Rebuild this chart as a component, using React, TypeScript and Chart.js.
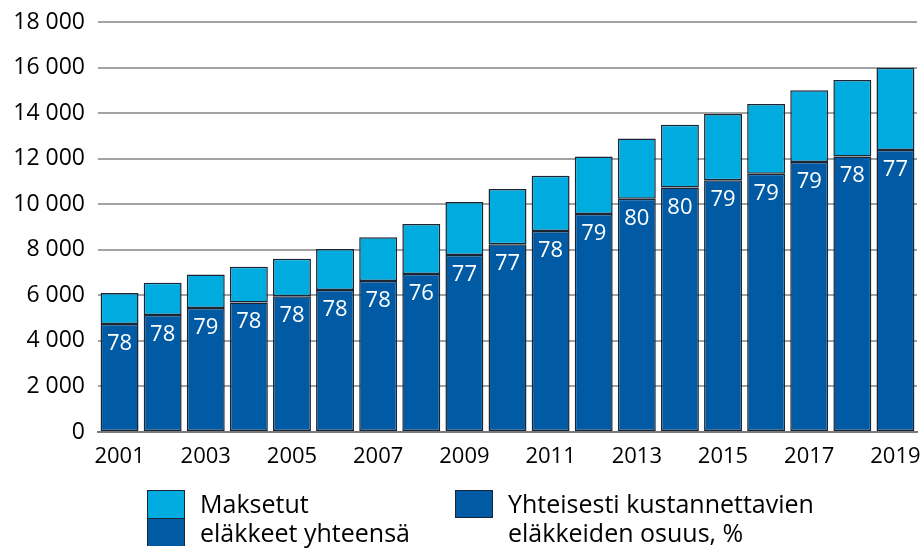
import React, { useEffect, useRef } from "react";
import { Chart, registerables } from "chart.js";

Chart.register(...registerables);

const years = ["2001","2002","2003","2004","2005","2006","2007","2008","2009","2010","2011","2012","2013","2014","2015","2016","2017","2018","2019"];
const totalPaid = [6100, 6550, 6920, 7260, 7610, 8030, 8550, 9130, 10100, 10670, 11250, 12100, 12880, 13490, 13960, 14400, 15000, 15450, 15990];
const sharedCost = [4740, 5140, 5440, 5690, 5960, 6230, 6630, 6940, 7770, 8240, 8820, 9570, 10240, 10730, 11050, 11340, 11850, 12100, 12380];
const sharePct = [78, 78, 79, 78, 78, 78, 78, 76, 77, 77, 78, 79, 80, 80, 79, 79, 79, 78, 77];

const LIGHT = "#00ABE0";
const DARK = "#005BA4";
const BORDER = "#1b2533";
const FONT = "'Open Sans', 'Noto Sans', sans-serif";

const fmt = (v: number) => String(v).replace(/\B(?=(\d{3})+(?!\d))/g, " ");

const labelPlugin = {
  id: "pctLabels",
  afterDatasetsDraw(chart: any) {
    const meta = chart.getDatasetMeta(0);
    const ctx = chart.ctx;
    ctx.save();
    ctx.fillStyle = "#ffffff";
    ctx.font = `22px ${FONT}`;
    ctx.textAlign = "center";
    ctx.textBaseline = "alphabetic";
    meta.data.forEach((bar: any, i: number) => {
      ctx.fillText(String(sharePct[i]), bar.x, bar.y + 26);
    });
    ctx.restore();
  },
};

export default function App() {
  const ref = useRef<HTMLCanvasElement | null>(null);
  useEffect(() => {
    document.body.style.margin = "0";
    const remainder = totalPaid.map((t, i) => t - sharedCost[i]);
    const chart = new Chart(ref.current!, {
      type: "bar",
      data: {
        labels: years,
        datasets: [
          {
            label: "Yhteisesti kustannettavien eläkkeiden osuus, %",
            data: sharedCost,
            backgroundColor: DARK,
            borderColor: BORDER,
            borderWidth: 1.5,
            borderSkipped: false,
            barPercentage: 0.88,
            categoryPercentage: 1,
          },
          {
            label: "Maksetut eläkkeet yhteensä",
            data: remainder,
            backgroundColor: LIGHT,
            borderColor: BORDER,
            borderWidth: 1.5,
            borderSkipped: false,
            barPercentage: 0.88,
            categoryPercentage: 1,
          },
        ],
      },
      options: {
        animation: false,
        responsive: false,
        layout: { padding: { top: 22, right: 7, left: 0, bottom: 0 } },
        plugins: { legend: { display: false }, tooltip: { enabled: false } },
        scales: {
          x: {
            stacked: true,
            grid: { display: false, drawTicks: false },
            border: { display: true, color: "#7a7a7a", width: 2 },
            ticks: {
              color: "#000",
              font: { family: FONT, size: 22 },
              padding: 12,
              maxRotation: 0,
              autoSkip: false,
              callback: (_v: any, i: number) => (i % 2 === 0 ? years[i] : ""),
            },
            afterFit: (s: any) => { s.height = 120; s.paddingLeft = 0; s.paddingRight = 0; },
          },
          y: {
            stacked: true,
            min: 0,
            max: 18000,
            grid: { color: "#a3a3a3", lineWidth: 2, drawTicks: false },
            border: { display: false },
            ticks: {
              stepSize: 2000,
              color: "#000",
              font: { family: FONT, size: 23 },
              padding: 13,
              callback: (v: any) => fmt(Number(v)),
            },
            afterFit: (s: any) => { s.width = 98; s.paddingTop = 0; s.paddingBottom = 0; },
          },
        },
      },
      plugins: [labelPlugin],
    });
    return () => chart.destroy();
  }, []);

  const textStyle: React.CSSProperties = {
    position: "absolute",
    top: 489,
    fontFamily: FONT,
    fontSize: 25,
    lineHeight: "29px",
    color: "#000",
    whiteSpace: "nowrap",
  };

  return (
    <div style={{ position: "relative", width: 924, height: 552 }}>
      <canvas ref={ref} width={924} height={552} style={{ display: "block" }} />
      <div style={{ position: "absolute", left: 147, top: 490, width: 38, height: 56, border: `1.5px solid ${BORDER}`, boxSizing: "border-box" }}>
        <div style={{ height: "50%", background: LIGHT, borderBottom: `1.5px solid ${BORDER}` }} />
        <div style={{ height: "50%", background: DARK }} />
      </div>
      <div style={{ ...textStyle, left: 200 }}>Maksetut<br />eläkkeet yhteensä</div>
      <div style={{ position: "absolute", left: 455, top: 490, width: 38, height: 28, border: `1.5px solid ${BORDER}`, boxSizing: "border-box", background: DARK }} />
      <div style={{ ...textStyle, left: 508 }}>Yhteisesti kustannettavien<br />eläkkeiden osuus, %</div>
    </div>
  );
}
